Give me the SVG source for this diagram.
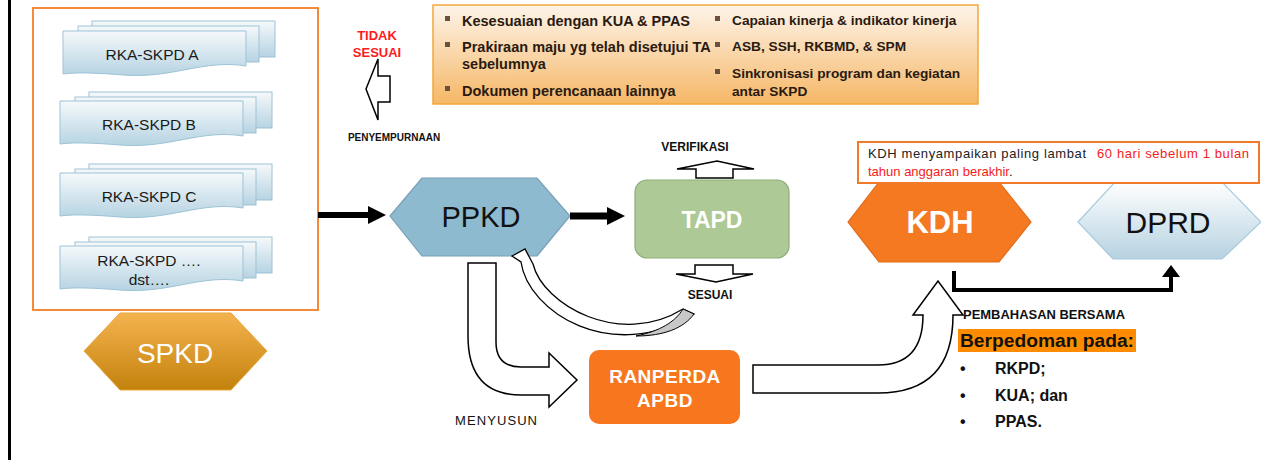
<svg xmlns="http://www.w3.org/2000/svg" width="1261" height="460" viewBox="0 0 1261 460">
<defs>
<style>
.f{font-family:"Liberation Sans",Arial,sans-serif}
.b{font-weight:bold}
.doc{fill:url(#gDoc);stroke:#9DC3D6;stroke-width:1}
.dtxt{font-family:"Liberation Sans",Arial,sans-serif;font-size:15.5px;fill:#1a1a1a;text-anchor:middle}
.crit{font-family:"Liberation Sans",Arial,sans-serif;font-weight:bold;fill:#2a1a10}
.cl{font-size:14.5px}
.cr{font-size:13.7px}
.sq{fill:#6b5040}
.blk{fill:#fff;stroke:#000;stroke-width:1.5}
.lbl{font-family:"Liberation Sans",Arial,sans-serif;font-weight:bold;fill:#111;text-anchor:middle}
.lbls{font-family:"Liberation Sans",Arial,sans-serif;font-weight:bold;fill:#111;text-anchor:start}
.con{stroke:#000;fill:none}
</style>
<linearGradient id="gDoc" x1="0" y1="0" x2="0" y2="1"><stop offset="0" stop-color="#F5F9FB"/><stop offset="1" stop-color="#B6D3E2"/></linearGradient>
<linearGradient id="gSpkd" x1="0" y1="0" x2="0" y2="1"><stop offset="0" stop-color="#F5B34F"/><stop offset="1" stop-color="#C3820C"/></linearGradient>
<linearGradient id="gCrit" x1="0" y1="0" x2="0" y2="1"><stop offset="0" stop-color="#FEF4EA"/><stop offset="1" stop-color="#F5B766"/></linearGradient>
<linearGradient id="gDprd" x1="0" y1="0" x2="0" y2="1"><stop offset="0" stop-color="#FFFFFF"/><stop offset="1" stop-color="#B6D2E1"/></linearGradient>
<marker id="ah" viewBox="0 0 18 18" markerWidth="18" markerHeight="18" refX="0" refY="9" orient="auto" markerUnits="userSpaceOnUse"><path d="M0,0 L18,9 L0,18 Z" fill="#000"/></marker>
<marker id="ah2" viewBox="0 0 12 18" markerWidth="12" markerHeight="18" refX="0" refY="9" orient="auto" markerUnits="userSpaceOnUse"><path d="M0,0 L12,9 L0,18 Z" fill="#000"/></marker>
<path id="docF" d="M0,0 H183 V35 C140,28 110,48 60,44 C35,42 15,41 0,43 Z"/>
</defs>

<rect x="0" y="0" width="1261" height="460" fill="#fff"/>
<rect x="8" y="0" width="3" height="460" fill="#000"/>

<!-- SKPD documents box -->
<g id="skpd-box">
<rect x="33" y="8" width="285" height="302" fill="#fff" stroke="#F58A3C" stroke-width="2"/>
<g id="doc-a">
<rect class="doc" x="92" y="21" width="183" height="36"/>
<rect class="doc" x="78" y="26" width="181" height="36"/>
<use href="#docF" class="doc" x="63" y="31"/>
<text class="dtxt" x="152" y="60">RKA-SKPD A</text>
</g>
<g id="doc-b">
<rect class="doc" x="89" y="92" width="183" height="36"/>
<rect class="doc" x="75" y="97" width="181" height="36"/>
<use href="#docF" class="doc" x="60" y="101"/>
<text class="dtxt" x="149" y="130">RKA-SKPD B</text>
</g>
<g id="doc-c">
<rect class="doc" x="89" y="164" width="183" height="36"/>
<rect class="doc" x="75" y="169" width="181" height="36"/>
<use href="#docF" class="doc" x="60" y="173"/>
<text class="dtxt" x="149" y="202">RKA-SKPD C</text>
</g>
<g id="doc-d">
<rect class="doc" x="89" y="237" width="183" height="36"/>
<rect class="doc" x="75" y="242" width="181" height="36"/>
<use href="#docF" class="doc" x="60" y="246"/>
<text class="dtxt" x="149" y="266">RKA-SKPD ….</text>
<text class="dtxt" x="149" y="285">dst….</text>
</g>
</g>

<g id="spkd">
<polygon points="84,351 120,313 231,313 267,351 231,390 120,390" fill="url(#gSpkd)" stroke="#E9A43A" stroke-width="1"/>
<text class="f" x="175" y="363" font-size="28" fill="#fff" text-anchor="middle">SPKD</text>
</g>

<!-- criteria box -->
<g id="kriteria">
<rect x="433" y="5" width="545" height="99" fill="url(#gCrit)" stroke="#F2A83A" stroke-width="1.5"/>
<rect class="sq" x="445" y="16" width="5" height="5"/>
<rect class="sq" x="445" y="42" width="5" height="5"/>
<rect class="sq" x="445" y="86" width="5" height="5"/>
<text class="crit cl" x="462" y="26">Kesesuaian dengan KUA &amp; PPAS</text>
<text class="crit cl" x="462" y="52">Prakiraan maju yg telah disetujui TA</text>
<text class="crit cl" x="462" y="69">sebelumnya</text>
<text class="crit cl" x="462" y="96">Dokumen perencanaan lainnya</text>
<rect class="sq" x="715" y="16" width="5" height="5"/>
<rect class="sq" x="715" y="42" width="5" height="5"/>
<rect class="sq" x="715" y="69" width="5" height="5"/>
<text class="crit cr" x="732" y="25">Capaian kinerja &amp; indikator kinerja</text>
<text class="crit cr" x="732" y="51">ASB, SSH, RKBMD, &amp; SPM</text>
<text class="crit cr" x="732" y="78">Sinkronisasi program dan kegiatan</text>
<text class="crit cr" x="732" y="96">antar SKPD</text>
</g>

<!-- TIDAK SESUAI / PENYEMPURNAAN -->
<g id="penyempurnaan">
<text class="f b" x="377" y="40" font-size="13" fill="#FF1A1A" text-anchor="middle">TIDAK</text>
<text class="f b" x="377" y="57" font-size="13" fill="#FF1A1A" text-anchor="middle">SESUAI</text>
<polygon class="blk" points="366,89 378,59 378,76 390,76 390,102 378,102 378,120"/>
<text class="lbl" x="394" y="141" font-size="10">PENYEMPURNAAN</text>
</g>

<g id="ppkd">
<polygon points="390,216 422,178 537,178 570,216 537,256 422,256" fill="#8EBAD0" stroke="#789FB7" stroke-width="1.2"/>
<text class="f" x="481" y="227" font-size="29" fill="#111" text-anchor="middle">PPKD</text>
</g>

<g id="tapd">
<rect x="635" y="180" width="154" height="78" rx="12" fill="#ADC995" stroke="#90AC79" stroke-width="1.2"/>
<text class="f b" x="712" y="228" font-size="23" fill="#fff" text-anchor="middle">TAPD</text>
</g>

<g id="verifikasi">
<text class="lbl" x="695" y="151" font-size="12">VERIFIKASI</text>
<polygon class="blk" points="696,178 696,169 677,169 717,161 754,169 733,169 733,178"/>
</g>

<g id="sesuai">
<polygon class="blk" points="695,265 733,265 733,274 753,274 716,282 676,274 695,274"/>
<text class="lbl" x="710" y="299" font-size="12">SESUAI</text>
</g>

<g id="ranperda">
<rect x="589" y="350" width="151" height="74" rx="10" fill="#F7761E"/>
<text class="f b" x="665" y="383" font-size="19" fill="#fff" text-anchor="middle" letter-spacing="0.5">RANPERDA</text>
<text class="f b" x="665" y="407" font-size="19" fill="#fff" text-anchor="middle" letter-spacing="0.5">APBD</text>
</g>

<g id="kdh">
<polygon points="848,222 879,182 999,182 1031,222 999,262 879,262" fill="#F47920" stroke="#E06C18" stroke-width="1.2"/>
<text class="f b" x="940" y="233" font-size="31" fill="#fff" text-anchor="middle">KDH</text>
</g>

<g id="dprd">
<polygon points="1078,222 1115,182 1222,182 1261,222 1222,259 1113,259" fill="url(#gDprd)" stroke="#A6CADB" stroke-width="1.2"/>
<text class="f" x="1168" y="233" font-size="30" fill="#111" text-anchor="middle">DPRD</text>
</g>

<g id="catatan-kdh">
<rect x="858" y="142" width="401" height="41" fill="#fff" stroke="#F07A2A" stroke-width="2"/>
<text class="f" font-size="13" y="158"><tspan x="868" fill="#222" textLength="218" lengthAdjust="spacing">KDH menyampaikan paling lambat</tspan><tspan x="1097" fill="#F41B1B" textLength="152" lengthAdjust="spacing">60 hari sebelum 1 bulan</tspan></text>
<text class="f" font-size="13" y="176"><tspan x="868" fill="#F41B1B">tahun anggaran berakhir</tspan><tspan fill="#222">.</tspan></text>
</g>

<g id="pedoman">
<text class="lbls" x="963" y="319" font-size="12" textLength="162" lengthAdjust="spacingAndGlyphs">PEMBAHASAN BERSAMA</text>
<rect x="958" y="329" width="178" height="23" fill="#FF8C00"/>
<text class="f b" x="960" y="347" font-size="18" fill="#111" textLength="174" lengthAdjust="spacingAndGlyphs">Berpedoman pada:</text>
<text class="f b" font-size="16" fill="#111"><tspan x="960" y="374">•</tspan><tspan x="995" y="374">RKPD;</tspan><tspan x="960" y="401">•</tspan><tspan x="995" y="401">KUA; dan</tspan><tspan x="960" y="427">•</tspan><tspan x="995" y="427">PPAS.</tspan></text>
</g>

<text class="f" x="496" y="425" font-size="13" fill="#111" text-anchor="middle" textLength="82" lengthAdjust="spacing">MENYUSUN</text>

<!-- connectors -->
<g id="connectors">
<line class="con" x1="318" y1="215" x2="368" y2="215" stroke-width="6" marker-end="url(#ah)"/>
<line class="con" x1="570" y1="216" x2="607" y2="216" stroke-width="7" marker-end="url(#ah)"/>
<polyline class="con" points="954,271 954,290 1171,290 1171,277" stroke-width="4" stroke-linejoin="miter" marker-end="url(#ah2)"/>
<!-- menyusun bent arrow -->
<path class="blk" d="M468,263 L496,263 L496,342 Q496,367 521,367 L549,367 L549,353 L577,380 L549,407 L549,395 L521,395 Q468,395 468,336 Z"/>
<!-- ranperda to kdh arrow -->
<path class="blk" d="M753,365 L878,365 Q923,365 923,315 L913,315 L938,281 L963,315 L953,315 Q953,393 878,393 L753,393 Z"/>
<!-- curved return arrow sesuai to ppkd -->
<path d="M512,256 L525,249 L533,264 C543,305 620,348 683,309 L694,314 C612,365 528,312 521,262 Z" fill="#fff" stroke="#000" stroke-width="1.3" stroke-linejoin="miter"/>
<path d="M683,309 L694,314 C684,328 664,336 636,336 C660,331 675,322 683,309 Z" fill="#C8C8C8" stroke="#000" stroke-width="1"/>
</g>
</svg>
